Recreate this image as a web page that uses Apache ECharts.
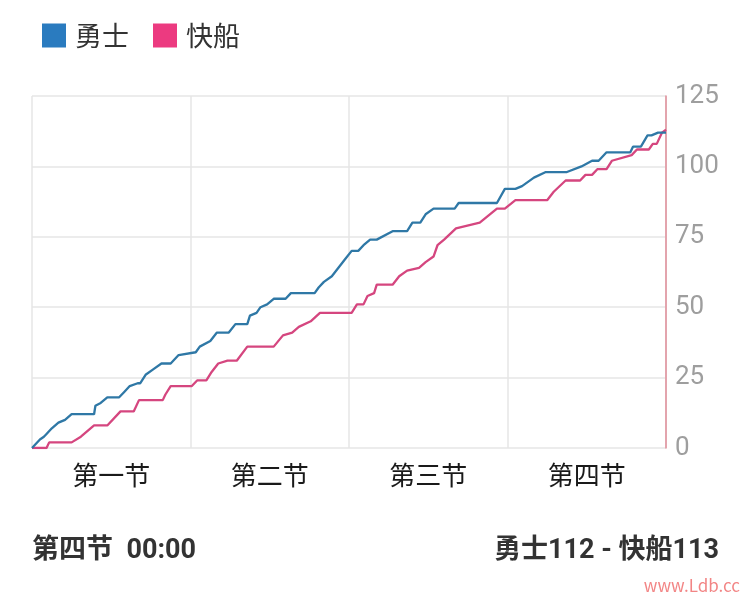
<!DOCTYPE html>
<html><head><meta charset="utf-8">
<script src="https://cdn.jsdelivr.net/npm/echarts@6/dist/echarts.min.js"></script>
<style>html,body{margin:0;padding:0;background:#fff}#c{width:750px;height:597px}</style>
</head><body><div id="c"></div>
<script>
const quarters = ['第一节','第二节','第三节','第四节'];
const seriesNames = ['勇士','快船'];
const yTicks = [0,25,50,75,100,125];
// [minute, score]
const warriorsPts = [[0,0],[0.6,3],[0.9,4],[1.1,5],[1.5,7],[2.0,9],[2.5,10],[3.0,12],[4.7,12],[4.8,15],[5.2,16],[5.7,18],[6.6,18],[7.0,20],[7.4,22],[8.0,23],[8.2,23],[8.6,26],[9.2,28],[9.8,30],[10.5,30],[11.1,33],[12.4,34],[12.7,36],[13.5,38],[14.0,41],[14.9,41],[15.4,44],[16.3,44],[16.5,47],[17.0,48],[17.3,50],[17.8,51],[18.3,53],[19.2,53],[19.6,55],[21.4,55],[21.7,57],[22.1,59],[22.7,61],[23.2,64],[23.7,67],[24.2,70],[24.7,70],[25.1,72],[25.6,74],[26.1,74],[27.3,77],[28.4,77],[28.8,80],[29.4,80],[29.8,83],[30.4,85],[32.0,85],[32.3,87],[35.2,87],[35.8,92],[36.6,92],[37.1,93],[38.0,96],[38.9,98],[40.5,98],[41.6,100],[42.4,102],[42.9,102],[43.5,105],[45.3,105],[45.5,107],[46.1,107],[46.6,111],[46.9,111],[47.4,112],[48,112]];
const clippersPts = [[0,0],[1.1,0],[1.3,2],[3.0,2],[3.7,4],[4.7,8],[5.7,8],[6.7,13],[7.7,13],[8.1,17],[9.9,17],[10.1,19],[10.5,22],[12.1,22],[12.5,24],[13.2,24],[13.6,27],[14.1,30],[14.8,31],[15.5,31],[16.3,36],[18.3,36],[19.0,40],[19.7,41],[20.2,43],[21.1,45],[21.8,48],[24.2,48],[24.6,51],[25.1,51],[25.4,54],[25.9,55],[26.1,58],[27.3,58],[27.8,61],[28.4,63],[29.3,64],[29.8,66],[30.4,68],[30.7,72],[31.2,74],[32.1,78],[33.9,80],[35.2,85],[35.8,85],[36.6,88],[39.0,88],[39.5,91],[40.4,95],[41.5,95],[41.9,97],[42.4,97],[42.8,99],[43.5,99],[43.9,102],[45.4,104],[45.8,106],[46.7,106],[47.0,108],[47.3,108],[47.7,112],[48,113]];
const statusText = '第四节  00:00';
const scoreText = '勇士112 - 快船113';
const watermark = 'www.Ldb.cc';

const chart = echarts.init(document.getElementById('c'));
const FONT = '"Noto Sans CJK SC","Noto Sans",sans-serif';
const NUMFONT = 'Roboto,"Noto Sans CJK SC",sans-serif';
chart.setOption({
  animation:false,
  textStyle:{fontFamily:FONT},
  legend:{left:37,top:17,icon:'rect',itemWidth:24,itemHeight:24,itemGap:24,
    textStyle:{fontSize:27,color:'#333',fontFamily:FONT,padding:[0,0,0,4]},
    data:seriesNames},
  grid:{left:32,right:84,top:96,bottom:149,containLabel:false},
  xAxis:[
    {type:'value',min:0,max:48,interval:12,axisLine:{show:false},axisTick:{show:false},axisLabel:{show:false},
     splitLine:{show:true,lineStyle:{color:'#e6e6e6',width:1.5}}},
    {type:'category',data:quarters,position:'bottom',boundaryGap:true,axisLine:{show:false},axisTick:{show:false},
     splitLine:{show:false},axisLabel:{color:'#1a1a1a',fontSize:26,margin:14,fontFamily:FONT}}
  ],
  yAxis:{type:'value',position:'right',min:yTicks[0],max:yTicks[yTicks.length-1],interval:25,
    axisLine:{show:true,onZero:false,lineStyle:{color:'#e08c98',width:1.5}},axisTick:{show:false},
    axisLabel:{color:'#9e9e9e',fontSize:26,margin:9,fontFamily:NUMFONT,padding:[4,0,0,0]},
    splitLine:{show:true,lineStyle:{color:'#e6e6e6',width:1.5}}},
  series:[
    {name:seriesNames[0],type:'line',xAxisIndex:0,data:warriorsPts,showSymbol:false,symbol:'none',
     itemStyle:{color:'#2a7bbf'},lineStyle:{color:'#2f78a6',width:2.3},z:3},
    {name:seriesNames[1],type:'line',xAxisIndex:0,data:clippersPts,showSymbol:false,symbol:'none',
     itemStyle:{color:'#ec3a80'},lineStyle:{color:'#d5467f',width:2.3},z:2}
  ],
  graphic:[
    {type:'text',left:32,top:538,style:{text:statusText,font:'bold 27px '+NUMFONT,fill:'#333'}},
    {type:'text',right:31,top:538,style:{text:scoreText,font:'bold 27px '+NUMFONT,fill:'#333'}},
    {type:'text',right:10,top:577,style:{text:watermark,font:'17px '+FONT,fill:'#f07070',opacity:0.85}}
  ]
});
</script></body></html>
